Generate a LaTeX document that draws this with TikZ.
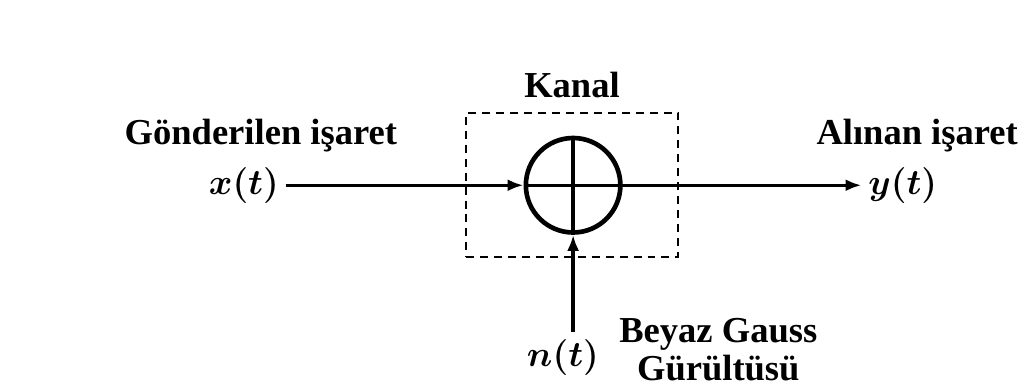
\documentclass[tikz,border=0pt]{standalone}
\usepackage{fix-cm}
\usepackage{fontspec}
\setmainfont{Liberation Serif}
\usetikzlibrary{arrows.meta}

\tikzset{
	lbl/.style={font=\fontsize{27.5}{28.5}\selectfont\bfseries, inner sep=0pt},
	sig/.style={font=\fontsize{27}{30}\selectfont\boldmath, inner sep=5pt},
	wire/.style={line width=2.6pt, -{Latex[length=12pt,width=9pt]}},
}

\begin{document}
\begin{tikzpicture}
	%%%%% START %%%%%
	\useasboundingbox (0,0) rectangle (27.06,10.32);
	
	% adder and channel box
	\node[circle, draw, line width=3.5pt, minimum size=2.5cm, inner sep=0pt] (sum) at (15.16,5.42) {};
	\draw[line width=2.6pt] (sum.north) -- (sum.south);
	\draw[line width=2.6pt] (sum.west) -- (sum.east);
	\node[draw, line width=1.6pt, dash pattern=on 6pt off 4.5pt, minimum width=5.61cm, minimum height=3.81cm] (chbox) at (15.135,5.425) {};
	\node[lbl, anchor=base] (kanal) at (15.13,7.75) {Kanal};
	
	% signals
	\node[sig] (xt) at (6.45,5.42) {$x(t)$};
	\node[sig] (yt) at (23.88,5.42) {$y(t)$};
	\node[sig] (nt) at (14.89,0.87) {$n(t)$};
	
	\node[lbl, anchor=base] (sent) at (6.90,6.51) {Gönderilen işaret};
	\node[lbl, anchor=base] (recv) at (24.26,6.51) {Alınan işaret};
	\node[lbl, anchor=north, align=center] (noise) at (19.0,1.905) {Beyaz Gauss\\Gürültüsü};
	
	\draw[wire] (xt) -- (sum.west);
	\draw[wire] (sum.east) -- (yt);
	\draw[wire] (nt.north -| sum.south) -- (sum.south);
	
	%%%%% END %%%%%
\end{tikzpicture}
\end{document}
